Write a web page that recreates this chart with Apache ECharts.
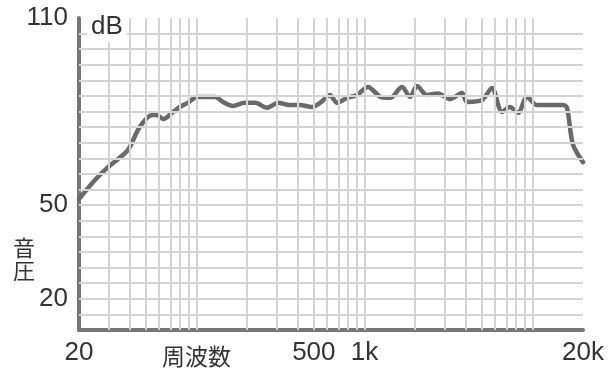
<!DOCTYPE html>
<html>
<head>
<meta charset="utf-8">
<script src="https://cdn.jsdelivr.net/npm/echarts@6/dist/echarts.min.js"></script>
<style>
html,body{margin:0;padding:0;background:#fff;}
#c{width:613px;height:376px;}
</style>
</head>
<body>
<div id="c"></div>
<script>
// Frequency (Hz) and sound pressure (dB)
const freqs = [20, 24.9, 29.8, 37.6, 40.2, 46, 54.5, 58, 63.6, 71.5, 79.6, 88.7, 101, 129, 144, 165, 194, 224, 263, 306, 358, 411, 488, 545, 624, 687, 787, 903, 1050, 1238, 1420, 1674, 1868, 2056, 2356, 2740, 3230, 3810, 4080, 5010, 5740, 6590, 7350, 8200, 9280, 10640, 15200, 16070, 17420, 20000];
const levels = [52, 58.1, 62.2, 66.7, 68.7, 75.1, 78.9, 78.9, 77.6, 79.6, 81.5, 82.8, 84.7, 84.7, 83.1, 81.8, 82.8, 82.8, 81.2, 82.8, 82.1, 82.1, 81.5, 82.8, 85.3, 82.8, 84.4, 85.3, 87.9, 84.8, 84.4, 87.9, 84.7, 88.2, 85.3, 85.8, 84, 86, 83.1, 83.7, 87.6, 79.9, 81.5, 79.6, 84.7, 82.1, 82.1, 81.2, 69.5, 63.8];

// Tick labels
const xTickLabels = [20, 500, 1000, 20000];
const yTickLabels = [20, 50, 110];

// Grid line positions
const freqGrid = [30, 40, 50, 60, 70, 80, 90, 100, 200, 300, 400, 500, 600, 700, 800, 900, 1000, 2000, 3000, 4000, 5000, 6000, 7000, 8000, 9000, 10000];
const dbGrid = [15, 20, 25, 30, 35, 40, 45, 50, 55, 60, 65, 70, 75, 80, 85, 90, 95, 100, 105];

const seriesData = freqs.map((f, i) => [f, levels[i]]);

const gridLineStyle = { color: '#d4d4d4', width: 2, type: 'solid' };

const chart = echarts.init(document.getElementById('c'), null, { renderer: 'canvas' });
chart.setOption({
  animation: false,
  backgroundColor: '#fff',
  grid: { left: 79, right: 30, top: 18, bottom: 46, containLabel: false },
  xAxis: {
    type: 'log',
    logBase: 10,
    min: 20,
    max: 20000,
    axisLine: { show: true, lineStyle: { color: '#767676', width: 4 } },
    axisTick: { show: false },
    splitLine: { show: false },
    axisLabel: {
      customValues: xTickLabels,
      margin: 10,
      fontSize: 26,
      color: '#333',
      fontFamily: 'Liberation Sans, Arial, sans-serif',
      formatter: v => (v >= 1000 ? (Math.round(v / 1000) + 'k') : String(Math.round(v)))
    }
  },
  yAxis: {
    type: 'value',
    min: 10,
    max: 110,
    interval: 5,
    axisLine: { show: true, lineStyle: { color: '#767676', width: 4 } },
    axisTick: { show: false },
    splitLine: { show: false },
    axisLabel: {
      margin: 11,
      fontSize: 26,
      color: '#333',
      fontFamily: 'Liberation Sans, Arial, sans-serif',
      formatter: v => (yTickLabels.indexOf(v) >= 0 ? String(v) : '')
    }
  },
  series: [
    {
      type: 'line',
      z: 1,
      data: seriesData,
      showSymbol: false,
      silent: true,
      lineStyle: { width: 0, opacity: 0 },
      markLine: {
        silent: true,
        symbol: ['none', 'none'],
        label: { show: false },
        lineStyle: gridLineStyle,
        data: freqGrid.map(f => ({ xAxis: f })).concat(dbGrid.map(d => ({ yAxis: d })))
      }
    },
    {
      type: 'line',
      z: 3,
      data: seriesData,
      showSymbol: false,
      smooth: 0.3,
      lineStyle: { color: '#6a6a6a', width: 4.5, cap: 'round', join: 'round' }
    }
  ],
  graphic: [
    {
      type: 'text',
      left: 87,
      top: 13,
      z: 10,
      style: {
        text: 'dB',
        fontSize: 26,
        fontFamily: 'Liberation Sans, Arial, sans-serif',
        fill: '#333',
        backgroundColor: '#fff',
        padding: [1, 4, 2, 4]
      }
    },
    {
      type: 'text',
      left: 13,
      top: 236,
      style: {
        text: '音\n圧',
        fontSize: 22,
        lineHeight: 23,
        fontFamily: 'Noto Sans CJK JP, sans-serif',
        fill: '#333'
      }
    },
    {
      type: 'text',
      left: 162,
      top: 345,
      style: {
        text: '周波数',
        fontSize: 23,
        fontFamily: 'Noto Sans CJK JP, sans-serif',
        fill: '#333'
      }
    }
  ]
});
</script>
</body>
</html>
